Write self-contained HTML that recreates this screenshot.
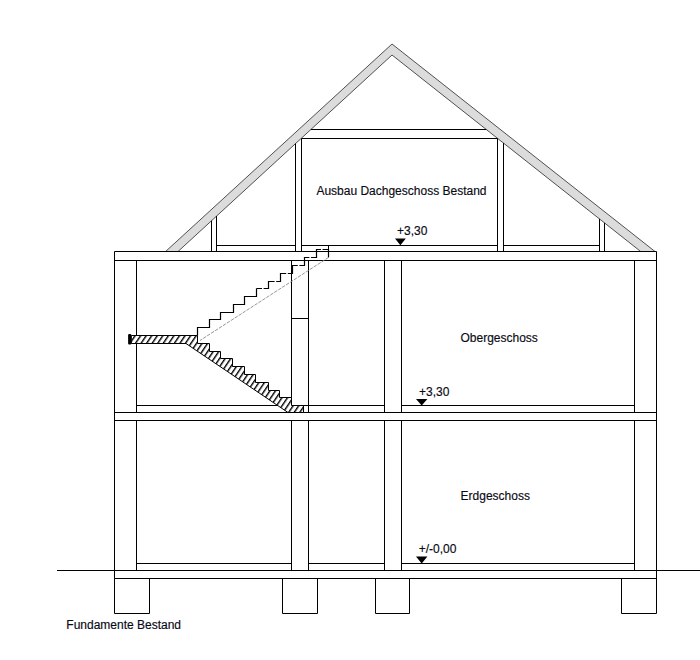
<!DOCTYPE html>
<html><head><meta charset="utf-8"><style>
html,body{margin:0;padding:0;background:#fff;width:700px;height:660px;overflow:hidden}
svg{display:block}
text{font-family:"Liberation Sans",sans-serif;font-size:12px;fill:#0a0a14;stroke:#0a0a14;stroke-width:0.15px}
</style></head><body>
<svg width="700" height="660" viewBox="0 0 700 660">
<defs>
<pattern id="h" patternUnits="userSpaceOnUse" width="4.6" height="10" patternTransform="rotate(34)">
<rect x="0" y="0" width="4.6" height="10" fill="#fff"/><rect x="0" y="0" width="1.4" height="10" fill="#000"/>
</pattern>
</defs>
<!-- roof -->
<polygon points="165.6,251.5 392,44 655,251.5 640.7,251.5 392,55 178,251.5" fill="#dcdcdc" stroke="#505050" stroke-width="1"/>
<g fill="none" stroke="#000" stroke-width="1">
<!-- attic beam -->
<path d="M310.9 129.5H486.3M301.5 138.5H497.5"/>
<!-- attic walls -->
<path d="M211.5 220.7V251.5M216.5 216.1V251.5M295.5 143.6V251.5M301.5 138.5V251.5M497.5 138.5V251.5M503.5 143.1V251.5M599.5 218.9V251.5M604.5 222.9V251.5"/>
<!-- attic floor -->
<path d="M216.5 245.5H295.5M301.5 245.5H497.5M503.5 245.5H599.5"/>
<!-- top slab -->
<path d="M114.5 251.5H656.5M114.5 260.5H656.5"/>
<!-- outer walls -->
<path d="M114.5 251.5V578.5M656.5 251.5V613.5"/>
<!-- OG inner walls -->
<path d="M136.5 260.5V412.5M291.5 260.5V405.5M308.5 260.5V412.5M291.5 318.5H308.5M384.5 260.5V412.5M401.5 260.5V412.5M634.5 260.5V412.5"/>
<!-- OG floor -->
<path d="M136.5 405.5H384.5M401.5 405.5H634.5M303.5 405.5V412.5"/>
<!-- middle slab -->
<path d="M114.5 412.5H656.5M114.5 420.5H656.5"/>
<!-- EG walls -->
<path d="M136.5 420.5V570.5M291.5 420.5V570.5M308.5 420.5V570.5M384.5 420.5V570.5M401.5 420.5V570.5M634.5 420.5V570.5"/>
<!-- EG floor -->
<path d="M136.5 563.5H291.5M308.5 563.5H384.5M401.5 563.5H634.5"/>
<!-- ground slab & line -->
<path d="M57 570.5H700M114.5 578.5H656.5"/>
<!-- foundations -->
<path d="M114.5 578.5V613.5H149.5V578.5M282.5 578.5V613.5H317.5V578.5M375.5 578.5V613.5H409.5V578.5M621.5 578.5V613.5H656.5"/>
</g>
<!-- hatched stair -->
<path d="M131.3 335.5H197.5V343.5H209.5V351.5H220.5V358.5H232.5V366.5H244.5V374.5H255.5V382.5H268.5V390.5H279.5V397.5H291.5V405.5H303.5V412.5H288L186 343.5H131.3Z" fill="url(#h)" stroke="#000" stroke-width="1"/>
<rect x="128.1" y="334" width="3.2" height="10.6" rx="1" fill="#000"/>
<!-- upper flight solid -->
<path d="M197.5 335.5V327.5H209.5V319.5H220.5V312.5H233.5V304.5H244.5V296.5H256.5V288.5" fill="none" stroke="#000" stroke-width="1.2"/>
<!-- upper flight dashed -->
<path d="M256.5 288.5H268.5V281.5H280.5V273.5H292.5V265.5H304.5V257.5H316.5V249.5H328.5V257.5" fill="none" stroke="#000" stroke-width="1.2" stroke-dasharray="5.5 1.6 12.5 0"/>
<path d="M328.5 245.5V251.5" stroke="#000" stroke-width="1"/>
<!-- walking line -->
<path d="M328.5 257.5L200 340.5" stroke="#8a8a8a" stroke-width="0.9" stroke-dasharray="3.5 1.2" fill="none"/>
<!-- level triangles -->
<polygon points="395,238.6 405.8,238.6 400.4,245.3" fill="#000"/>
<polygon points="416,398.9 427.4,398.9 421.7,405.4" fill="#000"/>
<polygon points="416,556.6 427.4,556.6 421.7,563.4" fill="#000"/>
<!-- texts -->
<text x="316.4" y="195">Ausbau Dachgeschoss Bestand</text>
<text x="397.1" y="235.1">+3,30</text>
<text x="460.5" y="342.2">Obergeschoss</text>
<text x="419" y="396.1">+3,30</text>
<text x="460.6" y="500.1">Erdgeschoss</text>
<text x="418.7" y="553.1">+/-0,00</text>
<text x="66.3" y="628.7">Fundamente Bestand</text>
</svg>
</body></html>
